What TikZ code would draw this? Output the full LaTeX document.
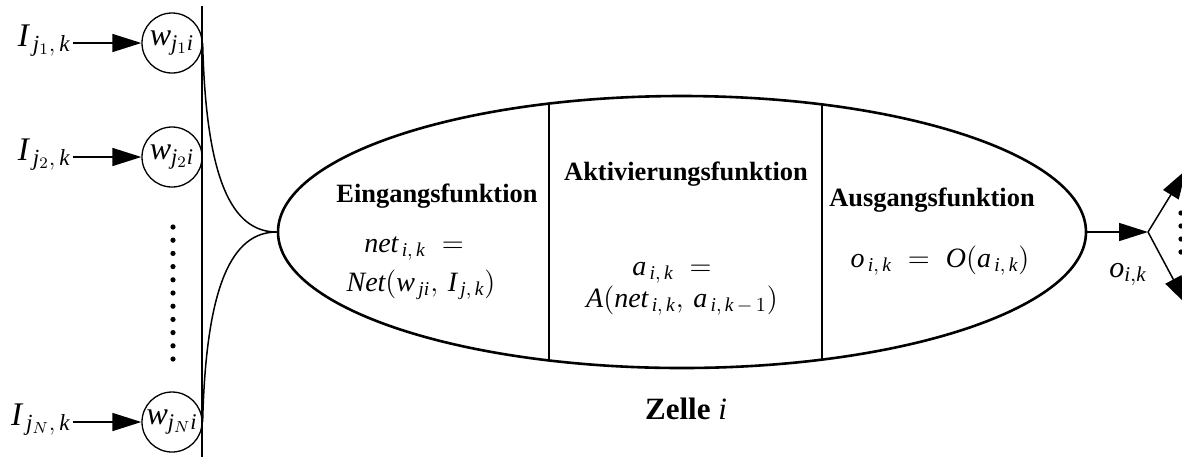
\documentclass[tikz,border=0pt]{standalone}
\usepackage{fontspec}
\setmainfont{Liberation Serif}
\newfontfamily\eqfont[NFSSFamily=eqsp, LetterSpace=18]{Liberation Serif}
\DeclareMathAlphabet{\mi}{TU}{eqsp}{m}{it}
\usetikzlibrary{arrows.meta, shapes.geometric}

\begin{document}
\begin{tikzpicture}[x=0.5pt, y=-0.5pt,
    wire/.style={line width=0.75pt},
    arr/.style={wire, -{Triangle[length=14.5pt, width=9pt]}},
    weight/.style={shape=circle, draw, line width=0.65pt, minimum size=30pt, inner sep=0pt, font=\fontsize{16}{18}\selectfont},
    inlabel/.style={inner sep=1pt, font=\fontsize{16.5}{19}\selectfont},
    title/.style={inner sep=0pt, font=\fontsize{13.2}{15}\selectfont\bfseries},
    formula/.style={inner sep=0pt, font=\fontsize{14}{16}\selectfont},
    dot/.style={shape=circle, fill, minimum size=2.6pt, inner sep=0pt}]
    \useasboundingbox (0,0) rectangle (1182,457);
    % Inputs and weights:
    \draw[line width=1pt] (202,6) -- (202,457);
    \node[weight](W1) at (172,43){$\mi{w}_{\mi{j}_1\mi{i}}$};
    \node[weight](W2) at (172,157){$\mi{w}_{\mi{j}_2\mi{i}}$};
    \node[weight](WN) at (172,422){$\mi{w}_{\mi{j}_N\mi{i}}$};
    \node[inlabel, anchor=base east](I1) at (73,46){$\mi{I}_{\,\mi{j}_1,\,\mi{k}}$};
    \node[inlabel, anchor=base east](I2) at (73,160){$\mi{I}_{\,\mi{j}_2,\,\mi{k}}$};
    \node[inlabel, anchor=base east](IN) at (73,425){$\mi{I}_{\,\mi{j}_N,\,\mi{k}}$};
    \draw[arr] (I1.east |- W1) -- (W1);
    \draw[arr] (I2.east |- W2) -- (W2);
    \draw[arr] (IN.east |- WN) -- (WN);
    \foreach \i in {0,...,10}
        \node[dot](D\i) at (173, 227+13.2*\i){};
    % Cell:
    \node[shape=ellipse, draw, line width=1.3pt, minimum width=404pt, minimum height=136pt, inner sep=0pt](C) at (682,232){};
    \draw[wire] (W1.east) .. controls (206,180) and (232,232) .. (C.west);
    \draw[wire] (WN.east) .. controls (206,285) and (232,232) .. (C.west);
    \begin{scope}
        \clip (C.center) ellipse [x radius=404, y radius=136];
        \draw[wire] (549,80) -- (549,390);
        \draw[wire] (822,80) -- (822,390);
    \end{scope}
    \node[title](T1) at (437,196){Eingangsfunktion};
    \node[title](T2) at (686,174){Aktivierungsfunktion};
    \node[title](T3) at (932,200){Ausgangsfunktion};
    \node[formula, anchor=base](F1) at (414,252){$\mi{net}_{\,\mi{i},\,\mi{k}}\;=$};
    \node[formula, anchor=base](F2) at (421,291){$\mi{Net}(\mi{w}_{\,\mi{ji}},\,\mi{I}_{\,\mi{j},\,\mi{k}})$};
    \node[formula, anchor=base](F3) at (672,275){$\mi{a}_{\,\mi{i},\,\mi{k}}\;=$};
    \node[formula, anchor=base](F4) at (682,307){$\mi{A}(\mi{net}_{\,\mi{i},\,\mi{k}},\,\mi{a}_{\,\mi{i},\,\mi{k}\,-\,1})$};
    \node[formula, anchor=base](F5) at (940,267){$\mi{o}_{\,\mi{i},\,\mi{k}}\;=\;\mi{O}(\mi{a}_{\,\mi{i},\,\mi{k}})$};
    \node[anchor=base, inner sep=0pt, font=\fontsize{15.5}{18}\selectfont\bfseries](Z) at (686,419){Zelle \textit{\mdseries i}};
    % Output:
    \coordinate (S) at (1148,232);
    \coordinate (E1) at (1186,170);
    \coordinate (E2) at (1187,305);
    \draw[arr] (C.east) -- (S);
    \draw[arr] (S) -- (E1);
    \draw[arr] (S) -- (E2);
    \node[formula, anchor=base, font=\fontsize{15}{17}\selectfont](O) at (1128,277){$\mi{o}_{\mi{i},\mi{k}}$};
    \foreach \i in {0,...,3}
        \node[dot](R\i) at (1181, 213+13*\i){};
\end{tikzpicture}
\end{document}
